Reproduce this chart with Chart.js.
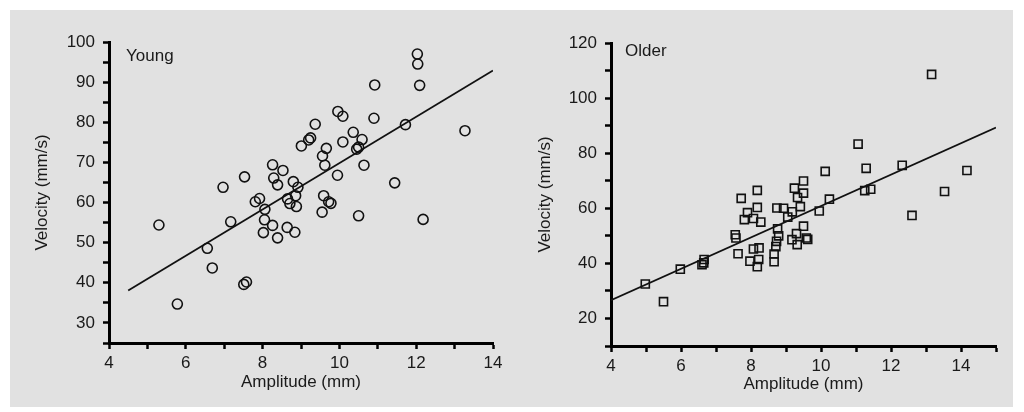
<!DOCTYPE html>
<html>
<head>
<meta charset="utf-8">
<script src="https://cdn.jsdelivr.net/npm/chart.js@4.4.1/dist/chart.umd.min.js"></script>
<style>
  body { margin: 0; background: #fff; }
  #panel { position: absolute; left: 10px; top: 10px; width: 1003px; height: 397px; background: #e1e1e1; }
  canvas { position: absolute; top: 0; }
  #young { left: 0; }
  #older { left: 512px; }
</style>
</head>
<body>
<div id="panel"></div>
<canvas id="young" width="512" height="412"></canvas>
<canvas id="older" width="512" height="412"></canvas>
<script>
// values
var youngAmplitude = [12.03, 12.04, 10.92, 12.09, 9.96, 10.09, 10.9, 9.37, 11.72, 13.27,
    10.36, 9.2, 9.25, 10.09, 10.59, 9.01, 9.66, 10.45, 10.5, 9.56,
    9.62, 10.64, 8.26, 8.53, 9.95, 7.53, 8.29, 8.39, 11.44, 8.8,
    8.92, 6.97, 7.92, 7.81, 8.86, 8.65, 8.71, 8.88, 8.06, 9.59,
    9.72, 9.78, 9.55, 10.5, 7.17, 8.05, 8.26, 8.64, 8.84, 8.02,
    8.39, 12.18, 5.3, 6.56, 6.69, 7.51, 7.58, 5.78];
var youngVelocity = [97.0, 94.5, 89.3, 89.2, 82.7, 81.5, 81.0, 79.5, 79.4, 77.9,
    77.5, 75.6, 76.1, 75.1, 75.7, 74.1, 73.5, 73.3, 73.8, 71.6,
    69.3, 69.3, 69.4, 68.0, 66.8, 66.4, 66.1, 64.4, 64.9, 65.2,
    63.8, 63.8, 61.0, 60.2, 61.7, 60.9, 59.75, 59.0, 58.3, 61.7,
    60.2, 59.8, 57.6, 56.7, 55.2, 55.7, 54.3, 53.8, 52.6, 52.5,
    51.2, 55.8, 54.4, 48.6, 43.7, 39.6, 40.2, 34.7];

var olderAmplitude = [13.16, 11.06, 10.12, 11.29, 12.32, 14.17, 9.5, 9.24, 13.53, 12.6,
    11.25, 11.42, 10.24, 9.95, 9.5, 9.33, 9.41, 8.93, 9.18, 9.05,
    9.5, 9.3, 9.17, 9.32, 9.58, 9.62, 8.18, 7.72, 8.18, 7.9,
    7.81, 8.07, 8.28, 8.74, 8.76, 8.79, 8.73, 8.71, 8.66, 8.66,
    7.55, 7.57, 7.63, 8.07, 8.23, 7.97, 8.22, 8.18, 4.98, 5.5,
    5.98, 6.6, 6.65, 6.66];
var olderVelocity = [108.6, 83.3, 73.4, 74.5, 75.6, 73.7, 69.9, 67.3, 66.1, 57.4,
    66.4, 66.9, 63.3, 59.0, 65.5, 63.9, 60.6, 60.0, 58.7, 56.8,
    53.5, 50.8, 48.6, 46.8, 49.2, 48.7, 66.5, 63.6, 60.3, 58.4,
    55.9, 56.3, 55.0, 60.1, 52.5, 50.0, 48.0, 46.1, 43.4, 40.6,
    50.4, 49.2, 43.5, 45.2, 45.6, 40.8, 41.4, 38.8, 32.5, 26.1,
    37.9, 39.5, 40.2, 41.4];

// regression lines (end points)
var youngFitAmplitude = [4.5, 14];
var youngFitVelocity = [38.1, 92.9];
var olderFitAmplitude = [4, 15];
var olderFitVelocity = [26.6, 89.3];

var FONT = '"Liberation Sans", Arial, Helvetica, sans-serif';
var INK = '#1a1a1a';

function pairs(xs, ys) {
    return xs.map(function (x, i) { return { x: x, y: ys[i] }; });
}

// group name written in the top left corner of the plot
var cornerLabel = {
    id: 'cornerLabel',
    afterDraw: function (chart) {
        var o = chart.options.plugins.cornerLabel;
        var a = chart.chartArea;
        var ctx = chart.ctx;
        ctx.save();
        ctx.font = '17px ' + FONT;
        ctx.fillStyle = INK;
        ctx.fillText(o.text, a.left + o.dx, a.top + o.dy);
        ctx.restore();
    }
};

function createConfig(s) {
    return {
        type: 'scatter',
        data: {
            datasets: [{
                data: pairs(s.xs, s.ys),
                pointStyle: s.marker,
                pointRadius: s.radius,
                pointHoverRadius: s.radius,
                borderColor: '#111',
                borderWidth: 1.6,
                backgroundColor: 'rgba(0,0,0,0)'
            }, {
                data: pairs(s.fitX, s.fitY),
                showLine: true,
                pointRadius: 0,
                borderColor: '#111',
                borderWidth: 1.8,
                fill: false
            }]
        },
        options: {
            responsive: false,
            animation: false,
            events: [],
            layout: { padding: { top: s.top, right: s.right, left: 0, bottom: 0 } },
            plugins: {
                legend: { display: false },
                tooltip: { enabled: false },
                cornerLabel: { text: s.label, dx: s.labelDx, dy: s.labelDy }
            },
            scales: {
                x: {
                    type: 'linear',
                    min: s.xMin, max: s.xMax,
                    ticks: {
                        stepSize: 1, autoSkip: false, maxRotation: 0, padding: 4,
                        color: INK, font: { family: FONT, size: 17 },
                        callback: function (v) { return v % 2 === 0 ? v : ''; }
                    },
                    grid: { drawOnChartArea: false, tickLength: 6, tickColor: '#000', tickWidth: 2.5 },
                    border: { display: true, color: '#000', width: 3 },
                    title: {
                        display: true, text: 'Amplitude (mm)', color: INK,
                        font: { family: FONT, size: 17 }, padding: { top: 0, bottom: s.xTitlePad }
                    },
                    afterFit: function (scale) { scale.height = s.xHeight; }
                },
                y: {
                    type: 'linear',
                    min: s.yMin, max: s.yMax,
                    ticks: {
                        stepSize: s.yStep, autoSkip: false, padding: 8,
                        color: INK, font: { family: FONT, size: 17 },
                        callback: function (v) { return v % s.yLabelEvery === 0 && v > s.yMin ? v : ''; }
                    },
                    grid: { drawOnChartArea: false, tickLength: 6, tickColor: '#000', tickWidth: 2.5 },
                    border: { display: true, color: '#000', width: 3 },
                    title: {
                        display: true, text: 'Velocity (mm/s)', color: INK,
                        font: { family: FONT, size: 17 }, padding: { top: s.yTitlePad, bottom: 0 }
                    },
                    afterFit: function (scale) { scale.width = s.yWidth; }
                }
            }
        },
        plugins: [cornerLabel]
    };
}

new Chart(document.getElementById('young').getContext('2d'), createConfig({
    xs: youngAmplitude, ys: youngVelocity, fitX: youngFitAmplitude, fitY: youngFitVelocity,
    marker: 'circle', radius: 5, label: 'Young', labelDx: 17, labelDy: 19,
    xMin: 4, xMax: 14, yMin: 25, yMax: 100, yStep: 5, yLabelEvery: 10,
    top: 42, right: 19, xHeight: 69, yWidth: 109, xTitlePad: 19, yTitlePad: 32
}));

new Chart(document.getElementById('older').getContext('2d'), createConfig({
    xs: olderAmplitude, ys: olderVelocity, fitX: olderFitAmplitude, fitY: olderFitVelocity,
    marker: 'rect', radius: 5.7, label: 'Older', labelDx: 14, labelDy: 13,
    xMin: 4, xMax: 15, yMin: 10, yMax: 120, yStep: 10, yLabelEvery: 20,
    top: 43, right: 28, xHeight: 66, yWidth: 99, xTitlePad: 17, yTitlePad: 23
}));
</script>
</body>
</html>
